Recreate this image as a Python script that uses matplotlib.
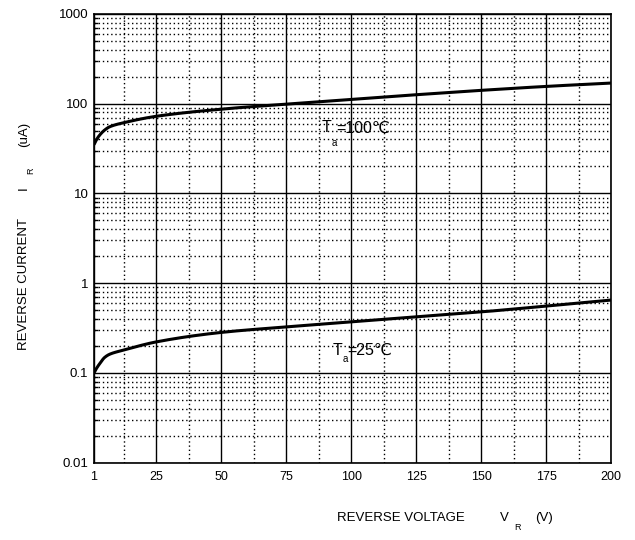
import matplotlib
matplotlib.use("Agg")
import matplotlib.pyplot as plt
from matplotlib.ticker import FixedLocator, LogLocator, NullFormatter, FixedFormatter
import numpy as np

# ---- data ----
v_100 = [1, 2, 3.2, 5.1, 7.1, 12.5, 25, 50, 75, 100, 125, 150, 175, 200]
i_100 = [35, 40, 44.8, 50.9, 55.5, 61.5, 72.5, 87, 99, 112, 126, 141, 156, 170]
v_25 = [1, 2, 3.2, 5.1, 7.1, 12.5, 25, 50, 75, 100, 125, 150, 175, 200]
i_25 = [0.100, 0.113, 0.127, 0.149, 0.162, 0.180, 0.222, 0.283, 0.326, 0.371, 0.421, 0.479, 0.556, 0.649]
x_ticks = [1, 25, 50, 75, 100, 125, 150, 175, 200]
x_tick_labels = ["1", "25", "50", "75", "100", "125", "150", "175", "200"]
x_minor = [12.5, 37.5, 62.5, 87.5, 112.5, 137.5, 162.5, 187.5]
y_ticks = [0.01, 0.1, 1, 10, 100, 1000]
y_tick_labels = ["0.01", "0.1", "1", "10", "100", "1000"]

FONT = ["Liberation Sans", "DejaVu Sans"]
plt.rcParams["font.family"] = FONT

W, H = 635, 540
fig = plt.figure(figsize=(W / 100, H / 100), dpi=100)
ax = fig.add_axes([94 / W, 1 - 462.7 / H, (611 - 94) / W, (462.7 - 14) / H])

ax.set_yscale("log")
ax.set_xlim(1, 200)
ax.set_ylim(0.01, 1000)

# smooth curves through read points (monotone cubic in log space)
def smooth(xs, ys):
    xs = np.asarray(xs, float)
    ly = np.log10(np.asarray(ys, float))
    xx = np.linspace(xs[0], xs[-1], 800)
    h = np.diff(xs)
    d = np.diff(ly) / h
    m = np.zeros_like(ly)
    m[0] = d[0]
    m[-1] = d[-1]
    for k in range(1, len(xs) - 1):
        if d[k - 1] * d[k] <= 0:
            m[k] = 0
        else:
            w1 = 2 * h[k] + h[k - 1]
            w2 = h[k] + 2 * h[k - 1]
            m[k] = (w1 + w2) / (w1 / d[k - 1] + w2 / d[k])
    idx = np.clip(np.searchsorted(xs, xx) - 1, 0, len(xs) - 2)
    t = (xx - xs[idx]) / h[idx]
    h00 = 2 * t**3 - 3 * t**2 + 1
    h10 = t**3 - 2 * t**2 + t
    h01 = -2 * t**3 + 3 * t**2
    h11 = t**3 - t**2
    yy = h00 * ly[idx] + h10 * h[idx] * m[idx] + h01 * ly[idx + 1] + h11 * h[idx] * m[idx + 1]
    return xx, 10 ** yy

for xs, ys in [(v_100, i_100), (v_25, i_25)]:
    xx, yy = smooth(xs, ys)
    ax.plot(xx, yy, color="black", lw=2.2, solid_capstyle="butt", zorder=5)

# ticks & grid
ax.xaxis.set_major_locator(FixedLocator(x_ticks))
ax.xaxis.set_major_formatter(FixedFormatter(x_tick_labels))
ax.xaxis.set_minor_locator(FixedLocator(x_minor))
ax.yaxis.set_major_locator(FixedLocator(y_ticks))
ax.yaxis.set_major_formatter(FixedFormatter(y_tick_labels))
ax.yaxis.set_minor_locator(LogLocator(base=10, subs=np.arange(2, 10)))
ax.yaxis.set_minor_formatter(NullFormatter())

ax.grid(which="major", color="black", lw=1.0, ls="-")
ax.grid(which="minor", color="black", lw=1.0, ls=(0, (1, 2)))
ax.set_axisbelow(True)

ax.tick_params(axis="x", which="both", length=0, labelsize=9, pad=6)
ax.tick_params(axis="y", which="major", length=0, labelsize=9.5, pad=4)
ax.tick_params(axis="y", which="minor", length=3, direction="in", width=1)
for s in ax.spines.values():
    s.set_color("black")
    s.set_linewidth(1.2)

# annotations with subscripts
def sub_label(x, y, main, tail, sub_off, tail_off, size=11.5):
    ax.annotate(main, (x, y), xytext=(0, 0), textcoords="offset points",
                fontsize=size, ha="left", va="baseline", family=FONT, zorder=6)
    ax.annotate("a", (x, y), xytext=sub_off, textcoords="offset points",
                fontsize=7, ha="left", va="baseline", family=FONT, zorder=6)
    ax.annotate(tail, (x, y), xytext=tail_off, textcoords="offset points",
                fontsize=size, ha="left", va="baseline", family=FONT, zorder=6)

sub_label(88.5, 48.0, "T", "=100\u2103", (7.4, -9.5), (10.8, 0))
sub_label(92.8, 0.158, "T", "=25\u2103", (7.0, -5.0), (10.5, 0))

# axis labels built from pieces (pixel positions)
def ftxt(px, py, s, size=9.5, rot=0):
    fig.text(px / W, 1 - py / H, s, fontsize=size, rotation=rot,
             rotation_mode="anchor", ha="left", va="baseline", family=FONT)

ftxt(337, 521, "REVERSE VOLTAGE")
ftxt(500, 521, "V")
ftxt(514, 530, "R", size=6.5)
ftxt(535, 521, "(V)")

ftxt(27, 350, "REVERSE CURRENT", rot=90)
ftxt(27, 190, "I", rot=90)
ftxt(33, 174, "R", size=6.5, rot=90)
ftxt(27, 147, "(uA)", rot=90)

fig.savefig("out.png", dpi=100, facecolor="white")
